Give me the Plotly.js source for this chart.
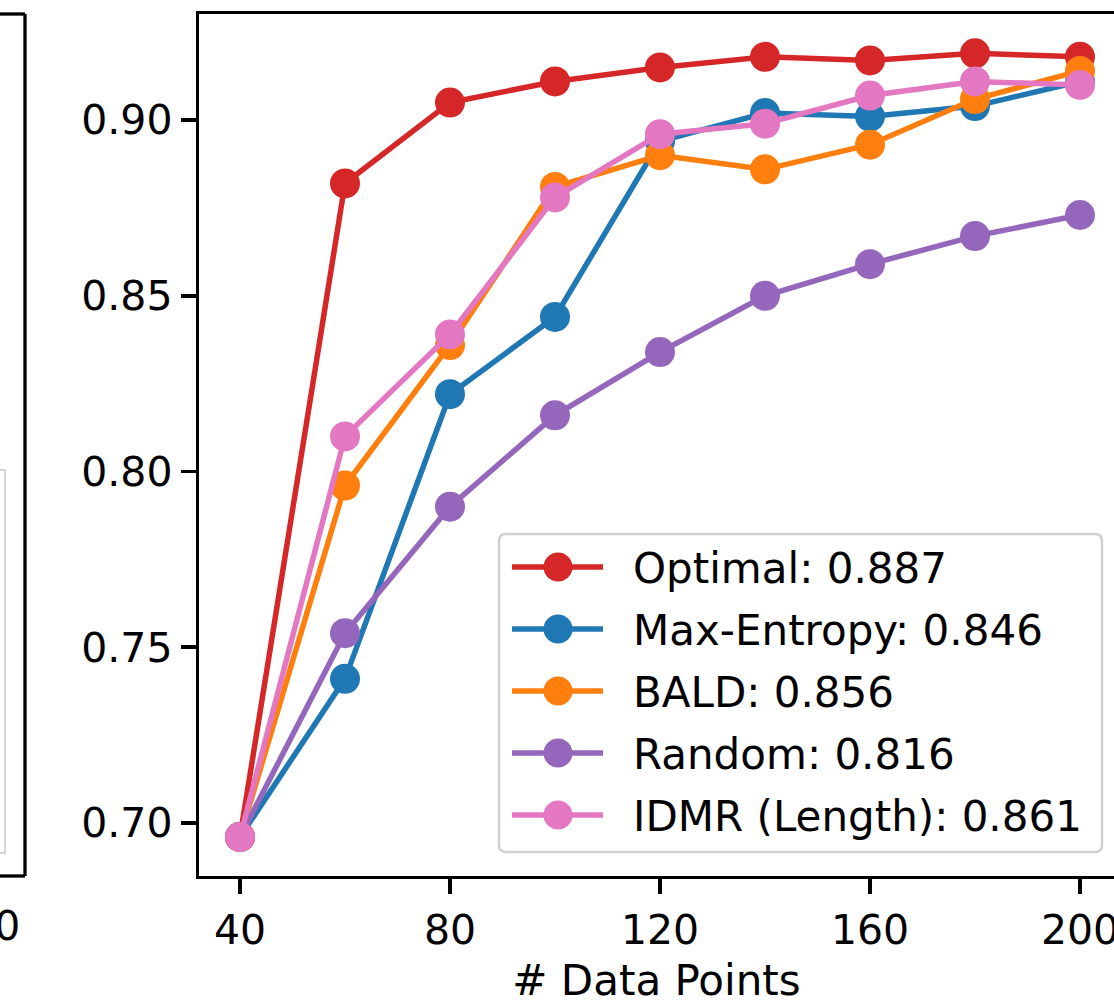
<!DOCTYPE html>
<html>
<head>
<meta charset="utf-8">
<script src="https://cdn.plot.ly/plotly-3.0.1.min.js"></script>
<style>html,body{margin:0;padding:0;background:#fff;}#chart{width:1114px;height:1005px;}</style>
</head>
<body>
<div id="chart"></div>
<script>
const dataPoints = [40, 60, 80, 100, 120, 140, 160, 180, 200];
const optimal    = [0.696, 0.882, 0.905, 0.911, 0.915, 0.918, 0.917, 0.919, 0.918];
const maxEntropy = [0.696, 0.741, 0.822, 0.844, 0.894, 0.902, 0.901, 0.904, 0.911];
const bald       = [0.696, 0.796, 0.836, 0.881, 0.890, 0.886, 0.893, 0.906, 0.914];
const random     = [0.696, 0.754, 0.790, 0.816, 0.834, 0.850, 0.859, 0.867, 0.873];
const idmr       = [0.696, 0.810, 0.839, 0.878, 0.896, 0.899, 0.907, 0.911, 0.910];
const seriesNames = ["Optimal: 0.887", "Max-Entropy: 0.846", "BALD: 0.856", "Random: 0.816", "IDMR (Length): 0.861"];
const seriesColors = ["#d62728", "#1f77b4", "#ff7f0e", "#9467bd", "#e377c2"];
const yTicks = [0.70, 0.75, 0.80, 0.85, 0.90];
const xTicks = [40, 80, 120, 160, 200];

const allSeries = [optimal, maxEntropy, bald, random, idmr];
const traces = allSeries.map((ys, i) => ({
  x: dataPoints, y: ys, type: 'scatter', mode: 'lines+markers',
  name: seriesNames[i], showlegend: false,
  line: {color: seriesColors[i], width: 5.5},
  marker: {color: seriesColors[i], size: 30}
}));

// pixel helpers for paper coords
const L = 199, W = 915, T = 14, H = 862;
const px = v => (v - L) / W;
const py = v => (T + H - v) / H;
const FONT = {family: 'DejaVu Sans', size: 41, color: '#000'};
const LFONT = {family: 'DejaVu Sans', size: 42, color: '#000'};

const shapes = [
  // neighbouring panel frame (cut off)
  {type: 'line', xref: 'paper', yref: 'paper', x0: px(25), x1: px(25), y0: 0, y1: 1, line: {color: '#000', width: 3.3}},
  {type: 'line', xref: 'paper', yref: 'paper', x0: px(-5), x1: px(25), y0: 1, y1: 1, line: {color: '#000', width: 3.3}},
  {type: 'line', xref: 'paper', yref: 'paper', x0: px(-5), x1: px(25), y0: 0, y1: 0, line: {color: '#000', width: 3.3}},
  {type: 'rect', xref: 'paper', yref: 'paper', x0: px(-40), x1: px(5), y0: py(853), y1: py(470), line: {color: '#d5d5d5', width: 2}, fillcolor: 'rgba(255,255,255,0.8)'}
];

// legend box (rounded)
const bx0 = 499, bx1 = 1102, by0 = 534, by1 = 852, r = 7;
const P = (x, y) => px(x) + ',' + py(y);
shapes.push({
  type: 'path', xref: 'paper', yref: 'paper',
  path: 'M' + P(bx0 + r, by0) + ' L' + P(bx1 - r, by0) + ' Q' + P(bx1, by0) + ' ' + P(bx1, by0 + r) +
        ' L' + P(bx1, by1 - r) + ' Q' + P(bx1, by1) + ' ' + P(bx1 - r, by1) +
        ' L' + P(bx0 + r, by1) + ' Q' + P(bx0, by1) + ' ' + P(bx0, by1 - r) +
        ' L' + P(bx0, by0 + r) + ' Q' + P(bx0, by0) + ' ' + P(bx0 + r, by0) + ' Z',
  fillcolor: 'rgba(255,255,255,0.8)', line: {color: '#d0d0d0', width: 2.5}
});

const annotations = [
  {xref: 'paper', yref: 'paper', x: px(22), y: py(900), xanchor: 'right', yanchor: 'top', text: '200', showarrow: false, font: FONT}
];

seriesNames.forEach((name, i) => {
  const yc = 567 + 62 * i;
  shapes.push({type: 'line', xref: 'paper', yref: 'paper', x0: px(512), x1: px(603), y0: py(yc), y1: py(yc),
               line: {color: seriesColors[i], width: 5.5}});
  shapes.push({type: 'circle', xref: 'paper', yref: 'paper', x0: px(558 - 14.5), x1: px(558 + 14.5), y0: py(yc + 14.5), y1: py(yc - 14.5),
               fillcolor: seriesColors[i], line: {width: 0}});
  annotations.push({xref: 'paper', yref: 'paper', x: px(631), y: py(yc + 1), xanchor: 'left', yanchor: 'middle',
                    text: name, showarrow: false, font: LFONT});
});

const layout = {
  width: 1114, height: 1005,
  margin: {l: L, r: 0, t: T, b: 1005 - T - H},
  paper_bgcolor: '#fff', plot_bgcolor: '#fff',
  font: FONT,
  showlegend: false,
  xaxis: {
    range: [32.19, 32.19 + W / 5.25],
    tickvals: xTicks, ticktext: xTicks.map(String),
    ticklabeloverflow: 'allow',
    ticks: 'outside', ticklen: 15, tickwidth: 3.5, tickcolor: '#000',
    showline: true, linecolor: '#000', linewidth: 3.3, mirror: true,
    showgrid: false, zeroline: false,
    tickfont: FONT,
    title: {text: '# Data Points', standoff: 20, font: LFONT}
  },
  yaxis: {
    range: [0.70 - 53 / 3510, 0.90 + 106 / 3510],
    tickvals: yTicks, ticktext: yTicks.map(v => v.toFixed(2)),
    ticks: 'outside', ticklen: 15, tickwidth: 3.5, tickcolor: '#000',
    showline: true, linecolor: '#000', linewidth: 3.3, mirror: false,
    showgrid: false, zeroline: false,
    tickfont: FONT
  },
  shapes: shapes,
  annotations: annotations
};

Plotly.newPlot('chart', traces, layout, {displayModeBar: false, staticPlot: true});
</script>
</body>
</html>
